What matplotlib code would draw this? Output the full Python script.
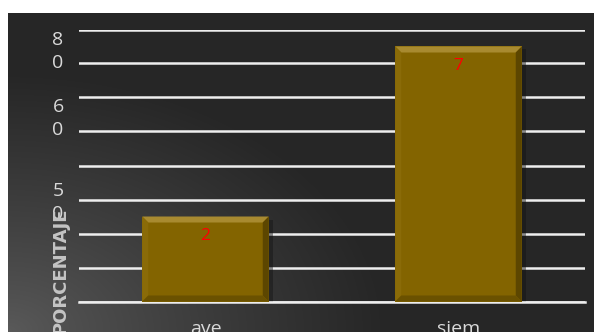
import numpy as np
import matplotlib
matplotlib.use("Agg")
import matplotlib.pyplot as plt
from matplotlib.patches import Polygon

categorias = ["ave", "siem"]
porcentajes = [25, 75]
etiquetas = ["2", "7"]
marcas_y = ["8\n0", "6\n0", "5\n0"]
pos_marcas_y = [73.6, 53.8, 29.0]

W, H = 594, 332
fig = plt.figure(figsize=(W / 100, H / 100), dpi=100)
fig.patch.set_facecolor("white")

# fondo oscuro con degradado radial desde la esquina inferior izquierda
bg = fig.add_axes([8 / W, 0, 586 / W, 319 / H])
bg.set_axis_off()
gx, gy = np.meshgrid(np.arange(586), np.arange(319)[::-1])
d = np.sqrt((gx / 380.0) ** 2 + (gy / 260.0) ** 2)
t = np.clip(d, 0, 1) ** 0.85
claro = np.array([0x5a, 0x5a, 0x5a]) / 255
oscuro = np.array([0x26, 0x26, 0x26]) / 255
img = claro * (1 - t[..., None]) + oscuro * t[..., None]
bg.imshow(img, aspect="auto", extent=(0, 1, 0, 1), origin="upper")
bg.set_xlim(0, 1)
bg.set_ylim(0, 1)

ax = fig.add_axes([79 / W, 30.5 / H, 506 / W, 272 / H])
ax.set_facecolor("none")
x = np.arange(len(categorias))
ancho = 0.5
barras = ax.bar(x, porcentajes, width=ancho, color="#836400", zorder=3)
ax.set_xlim(-0.5, len(categorias) - 0.5)
ax.set_ylim(0, 80)
ax.set_yticks(np.arange(0, 81, 10))
ax.yaxis.grid(True, color="#eeeeee", lw=1.8, zorder=0)
ax.set_axisbelow(True)
for s in ["top", "right", "left"]:
    ax.spines[s].set_visible(False)
ax.spines["bottom"].set_color("#eeeeee")
ax.spines["bottom"].set_linewidth(1.8)
ax.tick_params(length=0, labelleft=False, labelbottom=False)

# bisel de las barras
fig.canvas.draw()
pw = ax.get_window_extent().width / (ax.get_xlim()[1] - ax.get_xlim()[0])
ph = ax.get_window_extent().height / (ax.get_ylim()[1] - ax.get_ylim()[0])
bx, by = 6 / pw, 6 / ph
for b in barras:
    x0, x1 = b.get_x(), b.get_x() + b.get_width()
    y0, y1 = 0, b.get_height()
    # sombra
    ax.add_patch(Polygon([(x0 + 2 / pw, y0), (x1 + 4 / pw, y0), (x1 + 4 / pw, y1 - 3 / ph),
                          (x0 + 2 / pw, y1 - 3 / ph)], closed=True,
                         color="#141414", alpha=0.45, zorder=2, lw=0))
    caras = [
        ([(x0, y1), (x1, y1), (x1 - bx, y1 - by), (x0 + bx, y1 - by)], "#a88a30"),
        ([(x0, y0), (x0, y1), (x0 + bx, y1 - by), (x0 + bx, y0 + by)], "#8a6b08"),
        ([(x1, y0), (x1, y1), (x1 - bx, y1 - by), (x1 - bx, y0 + by)], "#5c4600"),
        ([(x0, y0), (x1, y0), (x1 - bx, y0 + by), (x0 + bx, y0 + by)], "#6a5100"),
    ]
    for pts, c in caras:
        ax.add_patch(Polygon(pts, closed=True, color=c, zorder=4, lw=0))

for xi, v, et in zip(x, porcentajes, etiquetas):
    ax.text(xi, v - 5.7, et, color="red", fontsize=12.5, ha="center", va="center",
            family="Open Sans", zorder=5)

gris = "#d9d9d9"
for et, y in zip(marcas_y, pos_marcas_y):
    ax.text(-21 / 506, y, et, transform=ax.get_yaxis_transform(), ha="center",
            va="center", fontsize=14, color=gris, family="Open Sans",
            linespacing=1.35)

for xi, c in zip(x, categorias):
    fig.text(ax.transData.transform((xi, 0))[0] / W, -2 / H, c, ha="center",
             va="baseline", fontsize=14, color=gris, family="Open Sans")

fig.text(60 / W, (H - 208) / H, "PORCENTAJE", rotation=90, ha="center", va="top",
         fontsize=13, fontweight="bold", color="#c4c4c4")

fig.savefig("out.png", dpi=100, facecolor=fig.get_facecolor())
